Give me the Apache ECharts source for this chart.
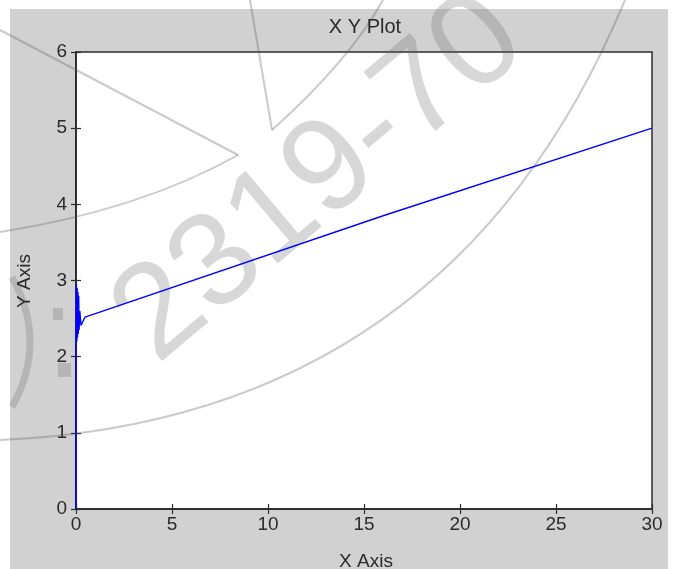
<!DOCTYPE html>
<html>
<head>
<meta charset="utf-8">
<script src="https://cdn.jsdelivr.net/npm/echarts@6/dist/echarts.min.js"></script>
<style>html,body{margin:0;padding:0;background:#fff;}#chart{width:677px;height:569px;}</style>
</head>
<body>
<div id="chart"></div>
<script>
// Data
const xValues = [0, 0, 0.02, 0.04, 0.06, 0.08, 0.10, 0.12, 0.14, 0.16, 0.20, 0.26, 0.47, 16, 30];
const yValues = [0, 2.18, 2.95, 2.20, 2.90, 2.25, 2.85, 2.30, 2.80, 2.35, 2.60, 2.41, 2.52, 3.85, 5.0];
const xTicks = [0, 5, 10, 15, 20, 25, 30];
const yTicks = [0, 1, 2, 3, 4, 5, 6];
const titleText = 'X Y Plot';
const xName = 'X Axis';
const yName = 'Y Axis';
const watermarkText = '2319-70';

const points = xValues.map((x, i) => [x, yValues[i]]);
const FONT = '"Liberation Sans", Arial, sans-serif';
const textColor = '#2a2a2a';
const axisColor = '#2e2e2e';
const wmStroke = 'rgba(90,90,90,0.32)';
const wmFill = 'rgba(100,100,100,0.26)';

const chart = echarts.init(document.getElementById('chart'), null, {renderer: 'canvas'});

const axisCommon = {
  type: 'value',
  axisLine: {show: true, lineStyle: {color: axisColor, width: 1.5}},
  axisTick: {show: true, inside: true, length: 5, lineStyle: {color: axisColor, width: 1.2}},
  splitLine: {show: false},
};

chart.setOption({
  backgroundColor: '#ffffff',
  animation: false,
  title: {
    text: titleText, left: 360, top: 12, textAlign: 'center',
    textStyle: {fontFamily: FONT, fontSize: 20, fontWeight: 'normal', color: textColor}
  },
  grid: {
    left: 76, right: 25, top: 52, bottom: 60,
    show: true, backgroundColor: '#ffffff', borderColor: axisColor, borderWidth: 1.5, z: 0
  },
  xAxis: [
    Object.assign({}, axisCommon, {
      position: 'bottom', min: xTicks[0], max: xTicks[xTicks.length - 1], interval: 5,
      axisLabel: {margin: 6, fontFamily: FONT, fontSize: 19, color: textColor}
    }),
    Object.assign({}, axisCommon, {
      position: 'top', min: xTicks[0], max: xTicks[xTicks.length - 1], interval: 5,
      axisLabel: {show: false}
    })
  ],
  yAxis: [
    Object.assign({}, axisCommon, {
      position: 'left', min: yTicks[0], max: yTicks[yTicks.length - 1], interval: 1,
      axisLabel: {margin: 9, fontFamily: FONT, fontSize: 19, color: textColor}
    }),
    Object.assign({}, axisCommon, {
      position: 'right', min: yTicks[0], max: yTicks[yTicks.length - 1], interval: 1,
      axisLabel: {show: false}
    })
  ],
  series: [{
    type: 'line',
    data: points,
    xAxisIndex: 0, yAxisIndex: 0,
    showSymbol: false,
    symbol: 'none',
    lineStyle: {color: '#0000ff', width: 1.4},
    z: 5
  }],
  graphic: [
    // gray figure background
    {type: 'rect', z: -100, silent: true, shape: {x: 10, y: 9, width: 658, height: 560}, style: {fill: '#d1d1d1'}},
    // axis names
    {type: 'text', z: 10, silent: true, x: 366, y: 562, style: {text: xName, font: '19px ' + FONT, fill: textColor, align: 'center', verticalAlign: 'middle'}},
    {type: 'text', z: 10, silent: true, x: 25, y: 281, rotation: Math.PI / 2, style: {text: yName, font: '19px ' + FONT, fill: textColor, align: 'center', verticalAlign: 'middle'}},
    // watermark strokes
    {type: 'line', z: 1, silent: true, shape: {x1: 0, y1: 30, x2: 238, y2: 155}, style: {stroke: wmStroke, lineWidth: 2}},
    {type: 'bezierCurve', z: 1, silent: true, shape: {x1: 238, y1: 155, cpx1: 140, cpy1: 210, x2: 0, y2: 232}, style: {stroke: wmStroke, lineWidth: 2, fill: 'none'}},
    {type: 'line', z: 1, silent: true, shape: {x1: 250, y1: 0, x2: 272, y2: 130}, style: {stroke: wmStroke, lineWidth: 2}},
    {type: 'bezierCurve', z: 1, silent: true, shape: {x1: 272, y1: 130, cpx1: 350, cpy1: 60, x2: 383, y2: 0}, style: {stroke: wmStroke, lineWidth: 2, fill: 'none'}},
    {type: 'bezierCurve', z: 1, silent: true, shape: {x1: 0, y1: 440, cpx1: 450, cpy1: 420, x2: 625, y2: 0}, style: {stroke: wmStroke, lineWidth: 2, fill: 'none'}},
    {type: 'bezierCurve', z: 1, silent: true, shape: {x1: 12, y1: 277, cpx1: 48, cpy1: 342, x2: 12, y2: 407}, style: {stroke: wmFill, lineWidth: 7, fill: 'none'}},
    {type: 'rect', z: 1, silent: true, shape: {x: 53, y: 308, width: 10, height: 12}, style: {fill: wmFill}},
    {type: 'rect', z: 1, silent: true, shape: {x: 58, y: 363, width: 13, height: 14}, style: {fill: wmFill}},
    {type: 'text', z: 1, silent: true, x: 320, y: 180, rotation: 0.70,
      style: {text: watermarkText, font: '133px ' + FONT, fill: wmFill, align: 'center', verticalAlign: 'middle'}}
  ]
});
</script>
</body>
</html>
